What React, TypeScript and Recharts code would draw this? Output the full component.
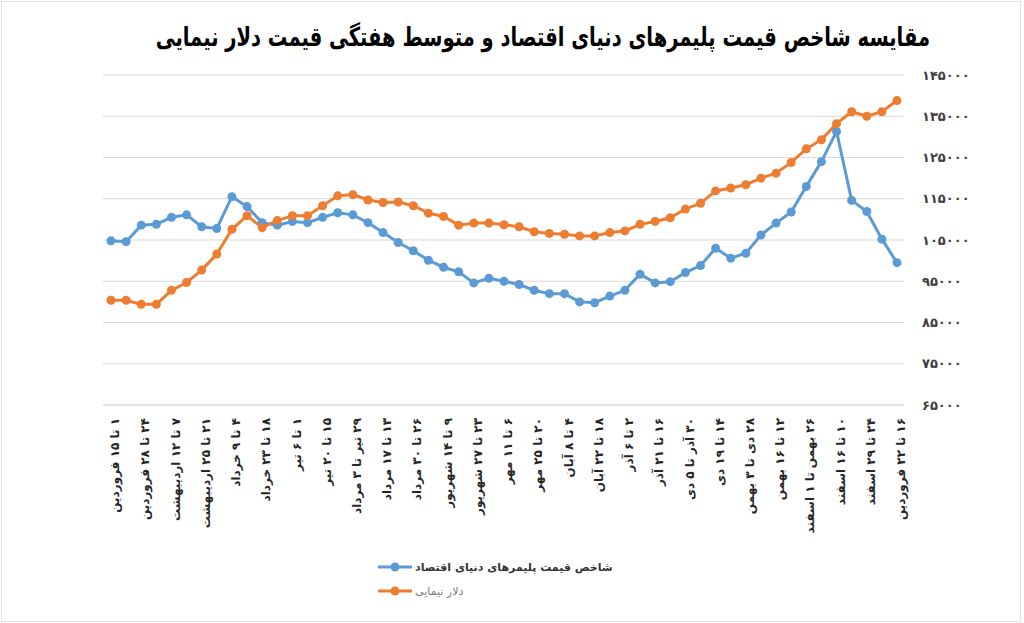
import React from "react";
import { LineChart, Line, XAxis, YAxis, CartesianGrid } from "recharts";

// weekly periods (only every other one is printed on the axis)
const weeks = [
  "۱ تا ۱۵ فروردین", "۱۷ تا ۲۱ فروردین", "۲۴ تا ۲۸ فروردین", "۳۱ فروردین تا ۴ اردیبهشت",
  "۷ تا ۱۲ اردیبهشت", "۱۴ تا ۱۸ اردیبهشت", "۲۱ تا ۲۵ اردیبهشت", "۲۸ اردیبهشت تا ۱ خرداد",
  "۴ تا ۹ خرداد", "۱۱ تا ۱۶ خرداد", "۱۸ تا ۲۳ خرداد", "۲۵ تا ۳۰ خرداد",
  "۱ تا ۶ تیر", "۸ تا ۱۳ تیر", "۱۵ تا ۲۰ تیر", "۲۲ تا ۲۷ تیر",
  "۲۹ تیر تا ۳ مرداد", "۶ تا ۱۰ مرداد", "۱۳ تا ۱۷ مرداد", "۲۰ تا ۲۴ مرداد",
  "۲۶ تا ۳۰ مرداد", "۲ تا ۷ شهریور", "۹ تا ۱۴ شهریور", "۱۶ تا ۲۰ شهریور",
  "۲۳ تا ۲۷ شهریور", "۳۰ شهریور تا ۴ مهر", "۶ تا ۱۱ مهر", "۱۳ تا ۱۸ مهر",
  "۲۰ تا ۲۵ مهر", "۲۷ مهر تا ۱ آبان", "۴ تا ۸ آبان", "۱۱ تا ۱۵ آبان",
  "۱۸ تا ۲۲ آبان", "۲۵ تا ۲۹ آبان", "۲ تا ۶ آذر", "۹ تا ۱۳ آذر",
  "۱۶ تا ۲۱ آذر", "۲۳ تا ۲۷ آذر", "۳۰ آذر تا ۵ دی", "۷ تا ۱۲ دی",
  "۱۴ تا ۱۹ دی", "۲۱ تا ۲۶ دی", "۲۸ دی تا ۳ بهمن", "۵ تا ۹ بهمن",
  "۱۲ تا ۱۶ بهمن", "۱۹ تا ۲۳ بهمن", "۲۶ بهمن تا ۱ اسفند", "۳ تا ۸ اسفند",
  "۱۰ تا ۱۶ اسفند", "۱۷ تا ۲۲ اسفند", "۲۴ تا ۲۹ اسفند", "۱ تا ۱۴ فروردین ",
  "۱۶ تا ۲۲ فروردین",
];

const polymerIndex = [
  104800, 104600, 108600, 108800, 110500, 111100, 108200, 107800,
  115500, 113100, 109200, 108600, 109500, 109200, 110500, 111600,
  111100, 109200, 106800, 104400, 102400, 100100, 98400, 97300,
  94600, 95700, 95000, 94200, 92800, 92000, 92000, 90000,
  89800, 91400, 92800, 96700, 94600, 94900, 97100, 98800,
  103000, 100600, 101800, 106200, 109100, 111800, 118000, 124000,
  131300, 114600, 111900, 105200, 99500,
];

const nimaDollar = [
  90400, 90400, 89400, 89400, 92800, 94700, 97700, 101600,
  107600, 110900, 108000, 109700, 110900, 110900, 113300, 115700,
  116000, 114700, 114100, 114200, 113300, 111500, 110700, 108600,
  109100, 109100, 108700, 108200, 107000, 106600, 106400, 106000,
  106000, 106800, 107200, 108800, 109500, 110400, 112500, 113900,
  116900, 117600, 118400, 120000, 121200, 123800, 127100, 129300,
  133200, 136100, 135000, 136100, 138800,
];

const yTicks = [65000, 75000, 85000, 95000, 105000, 115000, 125000, 135000, 145000];

const titleText = "مقایسه شاخص قیمت پلیمرهای دنیای اقتصاد و متوسط هفتگی قیمت دلار نیمایی";
const polymerName = "شاخص قیمت پلیمرهای دنیای اقتصاد";
const dollarName = "دلار نیمایی";

const BLUE = "#5B9BD5";
const ORANGE = "#ED7D31";
const FONT = "'DejaVu Sans', sans-serif";
const RLM = "\u200F";

const data = weeks.map((w, i) => ({
  week: w,
  polymer: polymerIndex[i],
  dollar: nimaDollar[i],
}));

const faDigits = (v: number | string) =>
  String(v).replace(/\d/g, (d) => "۰۱۲۳۴۵۶۷۸۹"[Number(d)]);

function WeekTick({ x, y, payload }: any) {
  const cx = x + 4;
  return (
    <text
      x={cx}
      y={y}
      transform={`rotate(-90 ${cx} ${y})`}
      textAnchor="end"
      dy="0.35em"
      fontSize={12}
      fontWeight="bold"
      fontFamily={FONT}
      fill="#262626"
    >
      {RLM + payload.value + RLM}
    </text>
  );
}

function LegendRow({ color, label, bold }: { color: string; label: string; bold?: boolean }) {
  return (
    <div style={{ display: "flex", alignItems: "center", height: 24 }}>
      <svg width={34} height={12}>
        <line x1={0} y1={6} x2={34} y2={6} stroke={color} strokeWidth={3} />
        <circle cx={17} cy={6} r={4.5} fill={color} />
      </svg>
      <span
        style={{
          marginLeft: 3,
          fontSize: 11,
          fontWeight: bold ? "bold" : "normal",
          color: bold ? "#333" : "#808080",
          direction: "rtl",
        }}
      >
        {label}
      </span>
    </div>
  );
}

export default function App() {
  return (
    <div
      style={{
        position: "absolute",
        left: 0,
        top: 0,
        width: 1024,
        height: 623,
        background: "#fff",
        fontFamily: FONT,
      }}
    >
      <div
        style={{
          position: "absolute",
          left: 1,
          top: 1,
          width: 1018,
          height: 619,
          border: "1px solid #e2e2e2",
        }}
      />
      <div
        style={{
          position: "absolute",
          right: 94,
          top: 20,
          direction: "rtl",
          fontSize: 19.5,
          lineHeight: "26px",
          fontWeight: "bold",
          color: "#000",
          whiteSpace: "nowrap",
          transform: "scaleY(1.35)",
          transformOrigin: "right top",
        }}
      >
        {titleText}
      </div>
      <div style={{ position: "absolute", left: 0, top: 0 }}>
        <LineChart
          width={1024}
          height={623}
          data={data}
          margin={{ top: 75, right: 20, bottom: 78, left: 103 }}
        >
          <CartesianGrid vertical={false} stroke="#D9D9D9" strokeWidth={1} />
          <XAxis
            dataKey="week"
            interval={1}
            height={140}
            tick={<WeekTick />}
            tickLine={false}
            tickSize={0}
            tickMargin={13}
            axisLine={{ stroke: "#D9D9D9" }}
            padding={{ left: 8, right: 7 }}
          />
          <YAxis
            orientation="right"
            width={100}
            domain={[65000, 145000]}
            ticks={yTicks}
            tickFormatter={faDigits}
            axisLine={false}
            tickLine={false}
            tickSize={0}
            tickMargin={18}
            tick={{ fontSize: 13, fontWeight: "bold", fill: "#404040", fontFamily: FONT, textAnchor: "start" }}
          />
          <Line
            type="linear"
            dataKey="polymer"
            name={polymerName}
            stroke={BLUE}
            strokeWidth={3}
            dot={{ r: 4.5, fill: BLUE, stroke: BLUE, strokeWidth: 0 }}
            activeDot={false}
            isAnimationActive={false}
          />
          <Line
            type="linear"
            dataKey="dollar"
            name={dollarName}
            stroke={ORANGE}
            strokeWidth={3}
            dot={{ r: 4.5, fill: ORANGE, stroke: ORANGE, strokeWidth: 0 }}
            activeDot={false}
            isAnimationActive={false}
          />
        </LineChart>
      </div>
      <div style={{ position: "absolute", left: 378, top: 555 }}>
        <LegendRow color={BLUE} label={polymerName} bold />
        <LegendRow color={ORANGE} label={dollarName} />
      </div>
    </div>
  );
}
